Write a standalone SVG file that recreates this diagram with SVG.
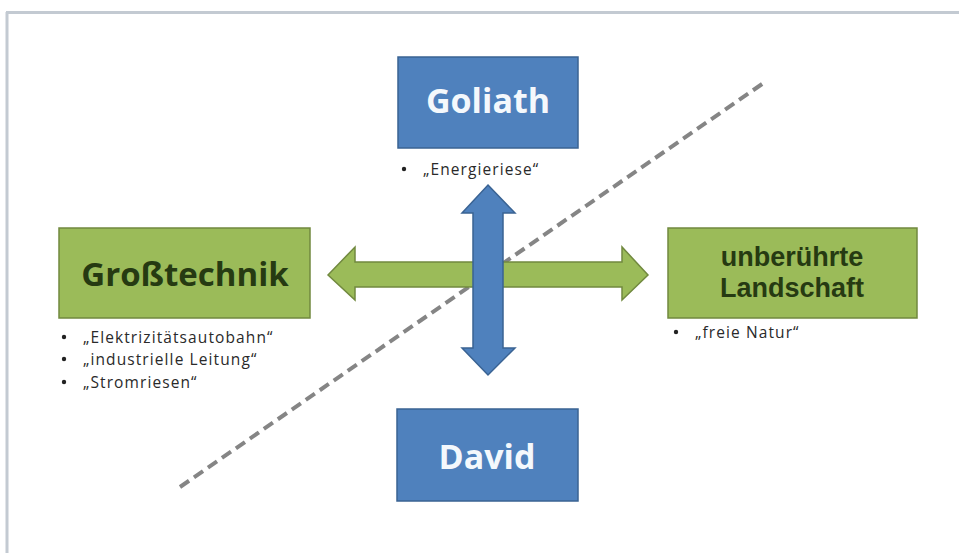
<svg xmlns="http://www.w3.org/2000/svg" width="959" height="553" viewBox="0 0 959 553">
<style>
.blue{fill:#4F81BD;stroke:#3A6393;stroke-width:1.5}
.green{fill:#9BBB59;stroke:#71893F;stroke-width:1.5}
.tw{font-family:"Open Sans","Liberation Sans",sans-serif;font-weight:bold;fill:#F4F8FC;text-anchor:middle}
.tg{font-family:"Open Sans","Liberation Sans",sans-serif;font-weight:bold;fill:#263A12;text-anchor:middle}
.tl{font-family:"Liberation Sans",Arial,sans-serif;font-weight:bold;fill:#263A12;text-anchor:middle}
.sm{font-family:"Open Sans","Liberation Sans",sans-serif;font-size:15.5px;letter-spacing:1.1px;fill:#2a2a2a}
</style>
<rect x="0" y="0" width="959" height="553" fill="#ffffff"/>
<line x1="6" y1="12.5" x2="959" y2="12.5" stroke="#C3CAD2" stroke-width="3"/>
<line x1="7" y1="12" x2="7" y2="553" stroke="#C3CAD2" stroke-width="3"/>
<g id="connectors">
<line x1="180" y1="487" x2="765" y2="82" stroke="#858585" stroke-width="4" stroke-dasharray="11,6"/>
<polygon class="green" points="328,275 355,247 355,262 622,262 622,247 648,275 622,300 622,287 355,287 355,300"/>
<polygon class="blue" points="488,185 515,213 503,213 503,348 515,348 488,375 462,348 473,348 473,213 462,213"/>
</g>
<g id="goliath">
<rect class="blue" x="398" y="57" width="180" height="91"/>
<text class="tw" x="488" y="113" font-size="34">Goliath</text>
<circle cx="404" cy="169" r="2.2" fill="#222"/>
<text class="sm" x="423" y="175">„Energieriese“</text>
</g>
<g id="grosstechnik">
<rect class="green" x="59" y="228" width="251" height="90"/>
<text class="tg" x="185" y="286" font-size="33">Großtechnik</text>
<circle cx="64" cy="337" r="2.2" fill="#222"/>
<text class="sm" x="83" y="343">„Elektrizitätsautobahn“</text>
<circle cx="64" cy="359" r="2.2" fill="#222"/>
<text class="sm" x="83" y="365">„industrielle Leitung“</text>
<circle cx="64" cy="382" r="2.2" fill="#222"/>
<text class="sm" x="83" y="388">„Stromriesen“</text>
</g>
<g id="landschaft">
<rect class="green" x="668" y="228" width="249" height="90"/>
<text class="tl" x="792" y="266" font-size="27">unberührte</text>
<text class="tl" x="792" y="297" font-size="27">Landschaft</text>
<circle cx="676" cy="332" r="2.2" fill="#222"/>
<text class="sm" x="695" y="338">„freie Natur“</text>
</g>
<g id="david">
<rect class="blue" x="397" y="409" width="181" height="92"/>
<text class="tw" x="487" y="469" font-size="34">David</text>
</g>
</svg>
